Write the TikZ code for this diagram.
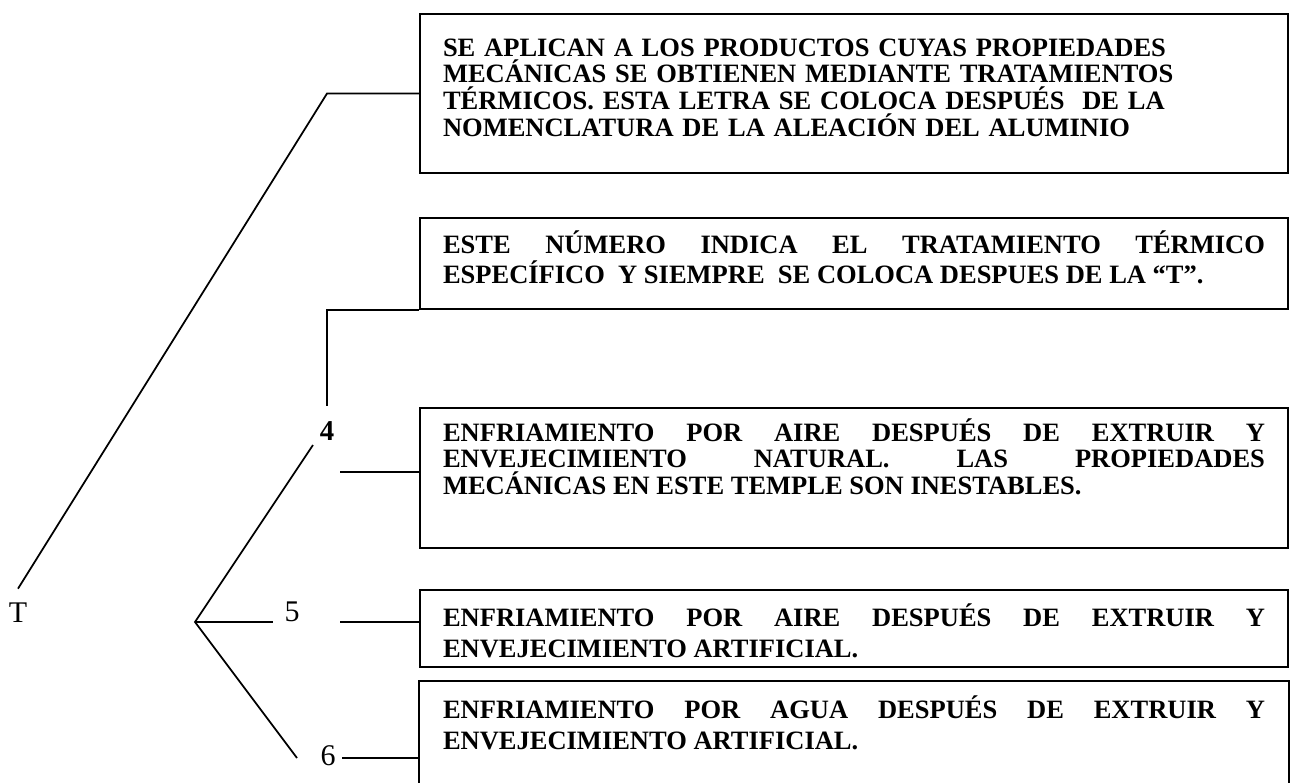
\documentclass[tikz,border=0pt]{standalone}
\usepackage{fontspec}
\setmainfont{Liberation Serif}
\hbadness=10000

\begin{document}
\begin{tikzpicture}[
          x=0.4pt, y=-0.4pt,
          box/.style={rectangle, draw, line width=0.8pt, anchor=north west, inner xsep=9.2pt, inner ysep=0pt, text width=328.8pt, align=justify, font=\fontsize{10.6}{10.68}\selectfont\bfseries},
          line/.style={line width=0.7pt},
          lbl/.style={inner sep=0pt, font=\fontsize{12}{14}\selectfont}
        ]
          \useasboundingbox (0,0) rectangle (1290,782);

          \node[box, align=left, text height=16.8pt, text depth=46.8pt] (b1) at (419,13) {SE APLICAN A LOS PRODUCTOS CUYAS PROPIEDADES\\ MECÁNICAS SE OBTIENEN MEDIANTE TRATAMIENTOS\\ TÉRMICOS. ESTA LETRA SE COLOCA DESPUÉS\ \ DE LA\\ NOMENCLATURA DE LA ALEACIÓN DEL ALUMINIO};
          \node[box, font=\fontsize{10.6}{12.2}\selectfont\bfseries, text height=14pt, text depth=22.4pt] (b2) at (419,217) {ESTE NÚMERO INDICA EL TRATAMIENTO TÉRMICO\linebreak ESPECÍFICO\ \ Y SIEMPRE\ \ SE COLOCA DESPUES DE LA “T”.};
          \node[box, text height=13.2pt, text depth=42.8pt] (b3) at (419,407) {ENFRIAMIENTO POR AIRE DESPUÉS DE EXTRUIR Y\linebreak ENVEJECIMIENTO NATURAL. LAS PROPIEDADES\linebreak MECÁNICAS EN ESTE TEMPLE SON INESTABLES.};
          \node[box, font=\fontsize{10.6}{12.4}\selectfont\bfseries, text height=14.4pt, text depth=16.4pt] (b4) at (419,589) {ENFRIAMIENTO POR AIRE DESPUÉS DE EXTRUIR Y\linebreak ENVEJECIMIENTO ARTIFICIAL.};
          \node[box, draw=none, font=\fontsize{10.6}{12.4}\selectfont\bfseries, text height=14.4pt, text depth=26pt] (b5) at (419,681) {ENFRIAMIENTO POR AGUA DESPUÉS DE EXTRUIR Y\linebreak ENVEJECIMIENTO ARTIFICIAL.};
          \draw[line width=0.8pt] (b5.south west) -- (b5.north west) -- (b5.north east) -- (b5.south east);

          \node[lbl] (T) at (18,613) {T};
          \node[lbl, font=\fontsize{11.5}{13}\selectfont\bfseries] (n4) at (327,431) {4};
          \node[lbl, inner xsep=4.6pt] (n5) at (292,612) {5};
          \node[lbl] (n6) at (328,756) {6};

          \coordinate (fork) at (195,622);
          \coordinate (up4) at (313,445);
          \coordinate (lo6) at (297,758);
          \coordinate (s4) at (340,472);
          \coordinate (s5) at (340,622);
          \coordinate (s6) at (342,758);

          \draw[line] ([yshift=5.6pt]T.north) -- ([xshift=-36.8pt]b1.west) -- (b1.west);
          \draw[line] ([yshift=6.2pt]n4.north) |- (b2.south west);
          \draw[line] (up4) -- (fork) -- (lo6);
          \draw[line] (fork) -- (fork -| n5.west);
          \draw[line] (s4) -- (s4 -| b3.west);
          \draw[line] (s5) -- (s5 -| b4.west);
          \draw[line] (s6) -- (s6 -| b5.west);
        \end{tikzpicture}
\end{document}
